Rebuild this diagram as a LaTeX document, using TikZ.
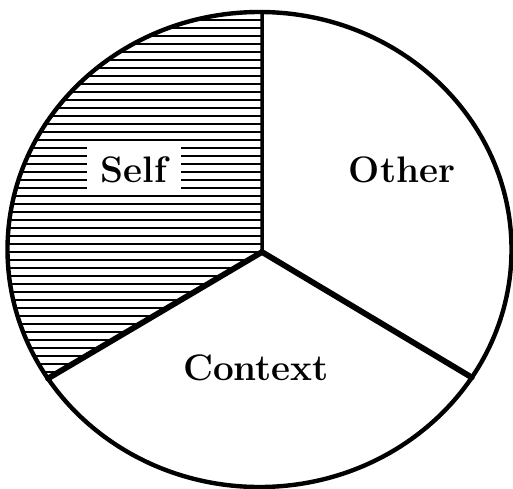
\documentclass[tikz,border=0pt]{standalone}
\usepackage{tikz}
\usetikzlibrary{calc}
\tikzset{
  rim/.style={line width=2.5pt},
  spoke/.style={line width=3.3pt,line cap=round},
  hatchline/.style={line width=1.6pt},
  slicelabel/.style={font=\fontsize{21}{24}\selectfont\bfseries,inner sep=0pt},
}

\begin{document}
\begin{tikzpicture}[x=0.02cm,y=0.02cm]
\useasboundingbox (0,0) rectangle (513,488);
% ---- geometry of the pie (ellipse, as in the scan) ----
\coordinate (ctr) at (259.5,238.5);
\coordinate (hub) at (262,236);
\coordinate (top) at ($(ctr)+(89.4:252 and 237.5)$);
\coordinate (leftend) at ($(ctr)+(212.9:252 and 237.5)$);
\coordinate (rightend) at ($(ctr)+(327.4:252 and 237.5)$);
% ---- hatched "Self" sector ----
\begin{scope}
  \clip (hub) -- (top) arc[start angle=89.4,end angle=212.9,x radius=252,y radius=237.5] -- cycle;
  \foreach \y in {12,20,...,396}
    \draw[hatchline] (0,488-\y) -- (513,488-\y);
\end{scope}
% ---- labels ----
\node[slicelabel,fill=white,inner xsep=8pt,inner ysep=6pt] (self) at (134,318) {Self};
\node[slicelabel] (other) at (402,318) {Other};
\node[slicelabel] (context) at (256,120) {Context};
% ---- outline and spokes ----
\draw[line width=2pt] (hub) -- (top);
\draw[spoke] (leftend) -- (hub) -- (rightend);
\draw[rim] (ctr) ellipse[x radius=252,y radius=237.5];
\end{tikzpicture}
\end{document}
